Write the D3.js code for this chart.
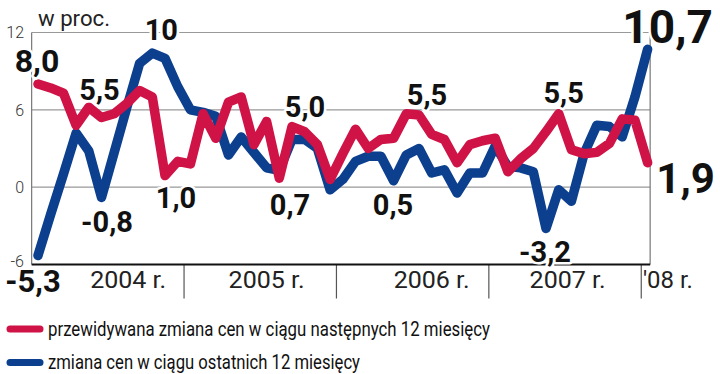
<!DOCTYPE html>
<html><head><meta charset="utf-8">
<script src="https://cdn.jsdelivr.net/npm/d3@7"></script>
<style>body{margin:0;background:#fff}svg{display:block}</style>
</head><body>
<svg id="c" width="720" height="374"></svg>
<script>
// Monthly data, Jan 2004 (index 0) .. Jan 2008 (index 48)
const months = d3.range(49);
const expected = [8.0, 7.7, 7.3, 4.8, 6.2, 5.4, 5.7, 6.5, 7.5, 7.0, 0.9, 2.0,
                  1.8, 5.7, 3.8, 6.6, 7.0, 3.3, 5.1, 0.7, 4.7, 4.3, 3.3, 0.6,
                  2.6, 4.5, 3.0, 3.7, 3.8, 5.7, 5.6, 4.1, 3.7, 1.9, 3.3, 3.6,
                  3.8, 1.2, 2.2, 3.0, 4.3, 5.7, 2.9, 2.6, 2.7, 3.4, 5.3, 5.2, 1.9];
const past     = [-5.3, -2.1, 1.0, 4.2, 2.8, -0.8, 2.7, 6.2, 9.6, 10.4, 10.0, 7.8,
                  6.0, 5.8, 5.5, 2.5, 3.9, 2.7, 1.5, 1.3, 3.7, 3.7, 3.0, -0.2,
                  0.6, 2.0, 2.4, 2.4, 0.5, 2.5, 3.0, 1.1, 1.35, -0.45, 1.1, 1.1,
                  3.2, 1.6, 1.5, 1.2, -3.2, -0.2, -1.1, 2.6, 4.8, 4.7, 3.9, 7.0, 10.7];
const yTicks = [12, 6, 0, -6];
const yTickLabels = ["12", "6", "0", "-6"];
const yearLabels = ["2004 r.", "2005 r.", "2006 r.", "2007 r.", "'08 r."];
const yearLabelAt = [7.1, 18.0, 31.0, 41.7, 49.6];
const yearBreaks = [11.5, 23.5, 35.5, 47.5];
const legendLabels = ["przewidywana zmiana cen w ciągu następnych 12 miesięcy",
                      "zmiana cen w ciągu ostatnich 12 miesięcy"];
// value labels: text, series, month index
const labelText   = ["8,0", "5,5", "10", "-0,8", "1,0", "-5,3", "0,7", "5,0", "0,5", "5,5", "5,5", "-3,2", "10,7", "1,9"];
const labelSeries = ["e",   "e",   "p",  "p",    "e",   "p",    "e",   "e",   "p",   "e",   "e",   "p",    "p",    "e"];
const labelIndex  = [0,     5,     9,    5,      10,    0,      19,    20,    28,    30,    41,    40,     48,     48];

const RED = "#cf1346", BLUE = "#0c3f8e";
const svg = d3.select("#c");
const x = d3.scaleLinear().domain([0, 48]).range([38, 647.6]);
const y = d3.scaleLinear().domain([-6, 12]).range([264.5, 32.5]);
const x0 = x(-0.5), x1 = x(48.2);
const F = "Roboto, 'Noto Sans', sans-serif";

// gridlines
svg.append("g").selectAll("line").data(yTicks.filter(d => d > -6)).join("line")
  .attr("x1", x0).attr("x2", x1).attr("y1", d => y(d)).attr("y2", d => y(d))
  .attr("stroke", "#999").attr("stroke-width", 1.2);
// side borders
svg.append("g").selectAll("line").data([x0, x1]).join("line")
  .attr("x1", d => d).attr("x2", d => d).attr("y1", y(12)).attr("y2", y(-6))
  .attr("stroke", "#777").attr("stroke-width", 1.2);
// year separators
svg.append("g").selectAll("line").data(yearBreaks).join("line")
  .attr("x1", d => x(d)).attr("x2", d => x(d)).attr("y1", y(-6)).attr("y2", y(-6) + 34)
  .attr("stroke", "#555").attr("stroke-width", 1.2);

const line = d3.line().x((d, i) => x(months[i])).y(d => y(d)).curve(d3.curveLinear);
svg.append("path").datum(past).attr("d", line).attr("fill", "none")
  .attr("stroke", BLUE).attr("stroke-width", 9.5).attr("stroke-linejoin", "round").attr("stroke-linecap", "round");
svg.append("path").datum(expected).attr("d", line).attr("fill", "none")
  .attr("stroke", RED).attr("stroke-width", 9.5).attr("stroke-linejoin", "round").attr("stroke-linecap", "round");

// bottom axis
svg.append("line").attr("x1", x0).attr("x2", x1).attr("y1", y(-6)).attr("y2", y(-6))
  .attr("stroke", "#111").attr("stroke-width", 2.2);

// y tick labels
svg.append("g").selectAll("text").data(yTicks).join("text")
  .attr("x", 24).attr("y", d => y(d) - (d === -6 ? 3 : 0)).attr("dy", "0.36em").attr("text-anchor", "end")
  .attr("font-family", F).attr("font-weight", 300).attr("font-size", 16).attr("fill", "#333")
  .text((d, i) => yTickLabels[i]);

// unit
svg.append("text").attr("x", 38).attr("y", 26).attr("font-family", F).attr("font-size", 22)
  .attr("fill", "#222").attr("textLength", 72).attr("lengthAdjust", "spacingAndGlyphs").text("w proc.");

// year labels
svg.append("g").selectAll("text").data(yearLabels).join("text")
  .attr("x", (d, i) => x(yearLabelAt[i])).attr("y", 288).attr("text-anchor", "middle")
  .attr("font-family", F).attr("font-size", 23).attr("fill", "#222")
  .attr("textLength", (d, i) => i < 4 ? 76 : 50).attr("lengthAdjust", "spacingAndGlyphs").text(d => d);

// value labels
const offsets = {"8,0": [-1, -12, 32], "5,5a": [-2, -18, 29], "10": [9, -13, 29], "-0,8": [5.5, 34.5, 29],
  "1,0": [11, 32, 29], "-5,3": [-5, 36.5, 31], "0,7": [10.7, 37, 29], "5,0": [13, -9.6, 29],
  "0,5": [-0.6, 34, 29], "5,5b": [8, -10, 29], "5,5c": [5, -10.7, 29], "-3,2": [-1, 33.6, 29],
  "10,7": [20, -6, 46], "1,9": [38, 30, 42]};
const keys = ["8,0", "5,5a", "10", "-0,8", "1,0", "-5,3", "0,7", "5,0", "0,5", "5,5b", "5,5c", "-3,2", "10,7", "1,9"];
svg.append("g").selectAll("text").data(labelText).join("text")
  .attr("x", (d, i) => x(months[labelIndex[i]]) + offsets[keys[i]][0])
  .attr("y", (d, i) => y((labelSeries[i] === "e" ? expected : past)[labelIndex[i]]) + offsets[keys[i]][1])
  .attr("text-anchor", "middle").attr("font-family", F).attr("font-weight", 700)
  .attr("font-size", (d, i) => offsets[keys[i]][2]).attr("fill", "#111")
  .attr("stroke", "#fff").attr("stroke-width", 5).attr("paint-order", "stroke").attr("stroke-linejoin", "round")
  .text(d => d);

// legend
const lg = svg.append("g").selectAll("g").data(legendLabels).join("g")
  .attr("transform", (d, i) => `translate(0,${329 + i * 33.5})`);
lg.append("line").attr("x1", 10).attr("x2", 40).attr("y1", 0).attr("y2", 0)
  .attr("stroke", (d, i) => i === 0 ? RED : BLUE).attr("stroke-width", 7).attr("stroke-linecap", "round");
lg.append("text").attr("x", 48).attr("y", 6.5).attr("font-family", F).attr("font-size", 21)
  .attr("fill", "#111").attr("textLength", (d, i) => i === 0 ? 442 : 312)
  .attr("lengthAdjust", "spacingAndGlyphs").text(d => d);
</script>
</body></html>
